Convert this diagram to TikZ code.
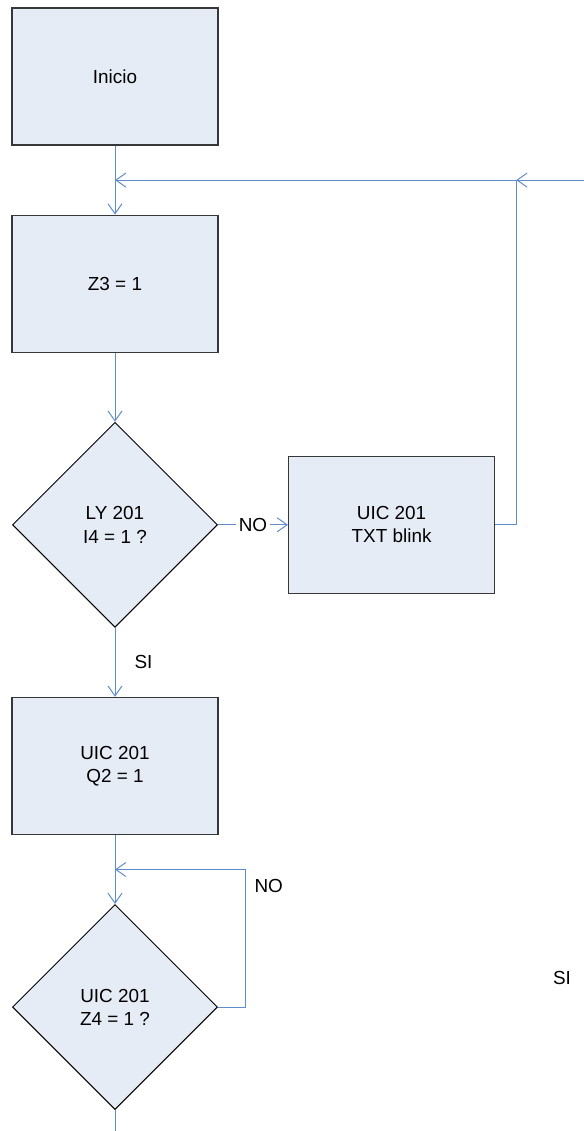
\documentclass[tikz,border=0pt]{standalone}
\usepackage{fontspec}
\setmainfont{Liberation Sans}
\usetikzlibrary{arrows.meta,positioning,shapes.geometric,calc}
\definecolor{boxfill}{RGB}{230,236,246}
\definecolor{boxgray}{RGB}{55,55,55}
\definecolor{linkblue}{RGB}{95,140,205}

\begin{document}
\begin{tikzpicture}[node distance=34.5pt and 35pt, >={Straight Barb[length=5pt,width=7pt]},
	process/.style={draw=boxgray, rectangle, line width=0.6pt, fill=boxfill, minimum width=103pt, minimum height=68.5pt, inner sep=2pt, align=center, font=\fontsize{9.45pt}{11.6pt}\selectfont},
	decision/.style={draw=black, diamond, line width=0.5pt, fill=boxfill, minimum width=102.5pt, minimum height=102.5pt, inner sep=0pt, align=center, font=\fontsize{9.45pt}{11.6pt}\selectfont},
	word/.style={draw=none, rectangle, inner sep=1.5pt, text=black, font=\fontsize{9.45pt}{11.6pt}\selectfont},
	flowLine/.style={line width=0.5pt, ->, color=linkblue}
	]
	\useasboundingbox (0,0) rectangle (292pt,-565.5pt);
	\coordinate (frameSE) at (292pt,-565.5pt);

	\node[process] (inicio) at (57.5pt,-38.25pt) {Inicio};
	\node[process, below = of inicio] (z3) {Z3 = 1};
	\node[decision, below = of z3] (ly) {LY 201\\I4 = 1 ?};
	\node[process, right = of ly] (txt) {UIC 201\\TXT blink};
	\node[process, below = of ly] (q2) {UIC 201\\Q2 = 1};
	\node[decision, below = of q2] (z4) {UIC 201\\Z4 = 1 ?};
	\node[word] (sifar) at (281pt,-489pt) {SI};

	\coordinate (j1) at ($(inicio.south)!0.5!(z3.north)$);
	\coordinate (j2) at ($(q2.south)!0.5!(z4.north)$);
	\coordinate[right = 10.5pt of txt.east] (tr);
	\coordinate (jtop) at (tr |- j1);
	\coordinate (redge) at (j1 -| frameSE);
	\coordinate[right = 13.5pt of z4.east] (zr);
	\coordinate (zbot) at (z4 |- frameSE);

	\draw [flowLine] (inicio) -- (z3);
	\draw [flowLine] (redge) -- (jtop);
	\draw [flowLine] (txt.east) -| (jtop) -- (j1);
	\draw [flowLine] (z3) -- (ly);
	\draw [flowLine] (ly) -- node[word, fill=white] {NO} (txt);
	\draw [flowLine] (ly) -- node[word, right=8pt] {SI} (q2);
	\draw [flowLine] (q2) -- (z4);
	\draw [flowLine] (z4.east) -- (zr) |- node[word, right=3pt, pos=0.44] {NO} (j2);
	\draw [flowLine, -] (z4) -- (zbot);
\end{tikzpicture}
\end{document}
